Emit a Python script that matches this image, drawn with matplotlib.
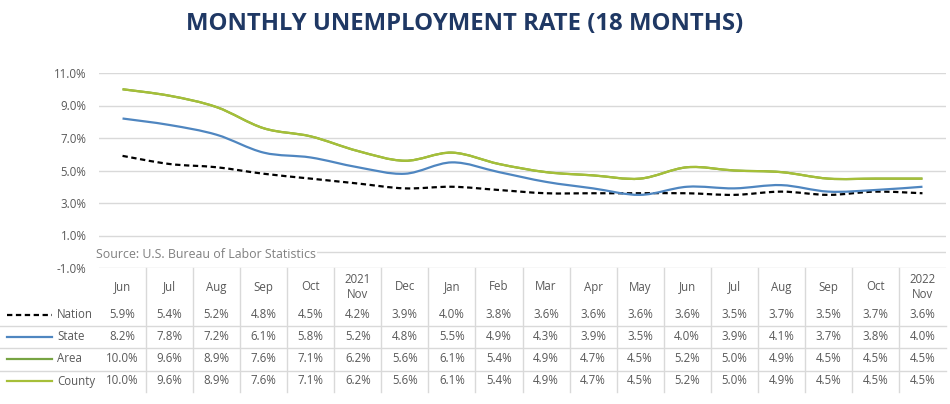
import numpy as np
import matplotlib.pyplot as plt
from matplotlib.path import Path
from matplotlib.patches import PathPatch
from matplotlib.lines import Line2D
from matplotlib.transforms import blended_transform_factory

plt.rcParams['font.family'] = ['Open Sans', 'DejaVu Sans']

months = ["Jun", "Jul", "Aug", "Sep", "Oct", "2021\nNov", "Dec", "Jan", "Feb",
          "Mar", "Apr", "May", "Jun", "Jul", "Aug", "Sep", "Oct", "2022\nNov"]
nation = [5.9, 5.4, 5.2, 4.8, 4.5, 4.2, 3.9, 4.0, 3.8, 3.6, 3.6, 3.6, 3.6, 3.5, 3.7, 3.5, 3.7, 3.6]
state = [8.2, 7.8, 7.2, 6.1, 5.8, 5.2, 4.8, 5.5, 4.9, 4.3, 3.9, 3.5, 4.0, 3.9, 4.1, 3.7, 3.8, 4.0]
area = [10.0, 9.6, 8.9, 7.6, 7.1, 6.2, 5.6, 6.1, 5.4, 4.9, 4.7, 4.5, 5.2, 5.0, 4.9, 4.5, 4.5, 4.5]
county = [10.0, 9.6, 8.9, 7.6, 7.1, 6.2, 5.6, 6.1, 5.4, 4.9, 4.7, 4.5, 5.2, 5.0, 4.9, 4.5, 4.5, 4.5]
yticks = [-1, 1, 3, 5, 7, 9, 11]

series = [
    ("Nation", nation, "#000000", (0, (2.4, 1.6))),
    ("State", state, "#4F86C0", "-"),
    ("Area", area, "#77A443", "-"),
    ("County", county, "#A6BF38", "-"),
]

W, H = 950, 404
fig = plt.figure(figsize=(W / 100, H / 100), dpi=100)
# plot area in pixels: x 99..946, y 73..268
ax = fig.add_axes([99 / W, 1 - 268 / H, (946 - 99) / W, (268 - 73) / H])
ax.set_xlim(-0.5, len(months) - 0.5)
ax.set_ylim(-1, 11)
for s in ax.spines.values():
    s.set_visible(False)
ax.set_xticks([])
ax.set_yticks(yticks)
ax.set_yticklabels([f"{v:.1f}%" for v in yticks], fontsize=8.3, color="#595959")
ax.tick_params(axis="y", length=0, pad=9)
ax.grid(axis="y", color="#D9D9D9", linewidth=1)
ax.axhline(0, color="#D9D9D9", linewidth=1)
ax.set_axisbelow(True)


def smooth_path(xs, ys):
    # Catmull-Rom style bezier, like spreadsheet smoothed lines
    pts = np.column_stack([xs, ys]).astype(float)
    n = len(pts)
    verts = [pts[0]]
    codes = [Path.MOVETO]
    for i in range(n - 1):
        p0 = pts[max(i - 1, 0)]
        p1 = pts[i]
        p2 = pts[i + 1]
        p3 = pts[min(i + 2, n - 1)]
        c1 = p1 + (p2 - p0) / 6
        c2 = p2 - (p3 - p1) / 6
        verts += [c1, c2, p2]
        codes += [Path.CURVE4] * 3
    return Path(verts, codes)


x = np.arange(len(months))
for name, vals, color, ls in series:
    patch = PathPatch(smooth_path(x, vals), facecolor="none", edgecolor=color,
                      linewidth=1.6, linestyle=ls, capstyle="butt")
    ax.add_patch(patch)

ax.text(96 / W, 1 - 255 / H, "Source: U.S. Bureau of Labor Statistics", transform=fig.transFigure,
        fontsize=8.9, color="#808080", ha="left", va="center",
        bbox=dict(facecolor="white", edgecolor="none", pad=1))

# data table under the chart
tx = blended_transform_factory(ax.transData, fig.transFigure)


def fy(p):
    return 1 - p / H


for i in range(len(months) - 1):
    fig.add_artist(Line2D([i + 0.5, i + 0.5], [fy(268), fy(392)], transform=tx,
                          color="#D9D9D9", linewidth=1))
for p in [326, 348, 371]:
    fig.add_artist(Line2D([0, 946 / W], [fy(p), fy(p)], transform=fig.transFigure,
                          color="#D9D9D9", linewidth=1))

for i, m in enumerate(months):
    ax.text(i, fy(287), m, transform=tx, ha="center", va="center", fontsize=8.3,
            color="#595959", linespacing=1.25)

row_y = [315, 337, 359, 381]
for (name, vals, color, ls), p in zip(series, row_y):
    fig.add_artist(Line2D([7 / W, 52 / W], [fy(p), fy(p)], transform=fig.transFigure,
                          color=color, linewidth=1.6, linestyle=ls))
    fig.text(57 / W, fy(p), name, ha="left", va="center", fontsize=8.3, color="#595959")
    for i, v in enumerate(vals):
        ax.text(i, fy(p), f"{v:.1f}%", transform=tx, ha="center", va="center",
                fontsize=8.3, color="#595959")

fig.text(465 / W, fy(24), "MONTHLY UNEMPLOYMENT RATE (18 MONTHS)", ha="center", va="center",
         fontsize=17.2, fontweight="bold", color="#1F3864")

fig.savefig("out.png", dpi=100, facecolor="white")
